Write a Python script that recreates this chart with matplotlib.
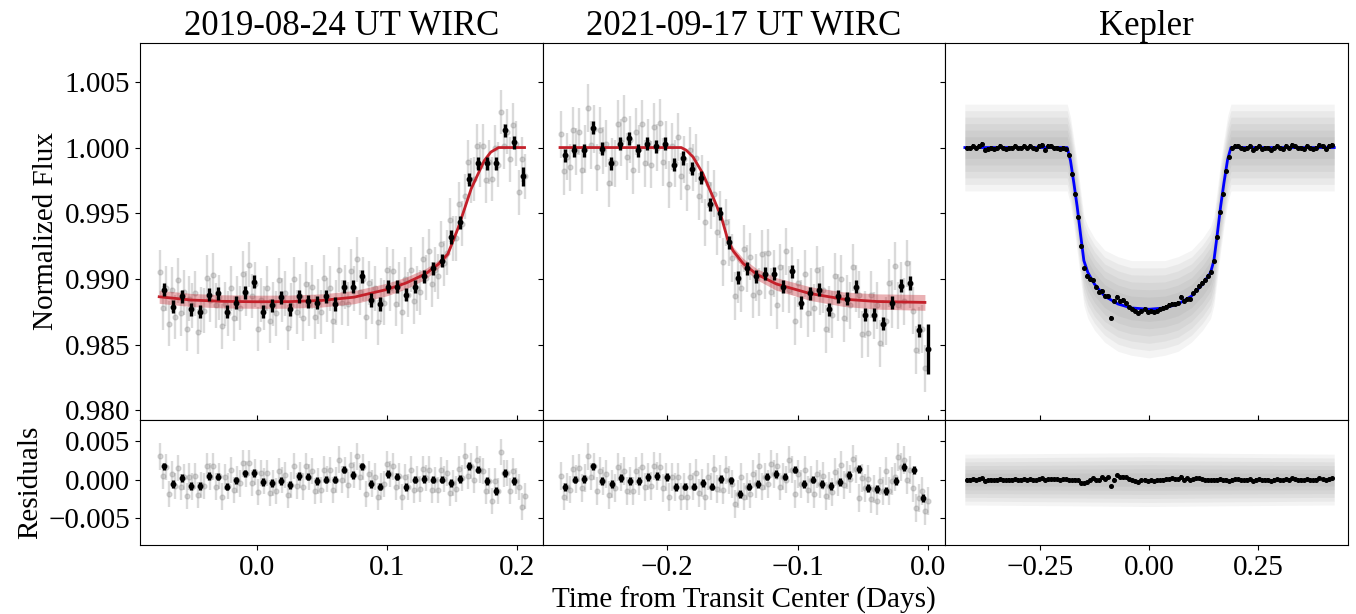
import numpy as np
import matplotlib
matplotlib.use("Agg")
import matplotlib.pyplot as plt

plt.rcParams['font.family'] = ['Liberation Serif', 'DejaVu Serif']
plt.rcParams['font.size'] = 21

titles = ["2019-08-24 UT WIRC", "2021-09-17 UT WIRC", "Kepler"]
xlabel = "Time from Transit Center (Days)"

# ---------------- 2019-08-24 WIRC ----------------
# binned points
t_bin1 = [-0.0711, -0.0642, -0.0573, -0.0504, -0.0435, -0.0366, -0.0297, -0.0228, -0.0159, -0.0090,
          -0.0021, 0.0048, 0.0117, 0.0186, 0.0255, 0.0324, 0.0393, 0.0462, 0.0531, 0.0600,
          0.0669, 0.0738, 0.0807, 0.0876, 0.0945, 0.1014, 0.1083, 0.1152, 0.1221, 0.1290,
          0.1359, 0.1428, 0.1497, 0.1566, 0.1635, 0.1704, 0.1773, 0.1842, 0.1911, 0.1980, 0.2049]
f_bin1 = [0.9892, 0.9879, 0.9887, 0.9877, 0.9875, 0.9888, 0.9889, 0.9875, 0.9882, 0.9890,
          0.9898, 0.9875, 0.9880, 0.9886, 0.9877, 0.9887, 0.9883, 0.9882, 0.9887, 0.9881,
          0.9894, 0.9894, 0.9902, 0.9884, 0.9881, 0.9894, 0.9894, 0.9888, 0.9894, 0.9902,
          0.9908, 0.9914, 0.9932, 0.9943, 0.9976, 0.9988, 0.9988, 0.9988, 1.0013, 1.0004, 0.9978]
e_bin1 = [0.0005, 0.0005, 0.0005, 0.0005, 0.0005, 0.0005, 0.0005, 0.0005, 0.0005, 0.0005,
          0.0005, 0.0005, 0.0005, 0.0005, 0.0005, 0.0005, 0.0005, 0.0005, 0.0005, 0.0005,
          0.0005, 0.0005, 0.0005, 0.0005, 0.0005, 0.0005, 0.0005, 0.0005, 0.0005, 0.0005,
          0.0005, 0.0005, 0.0005, 0.0005, 0.0005, 0.0005, 0.0005, 0.0005, 0.0005, 0.0005, 0.0007]
r_bin1 = [0.0017, -0.0006, 0.0002, -0.0008, -0.0008, 0.0005, 0.0004, -0.0009, -0.0001, 0.0008,
          0.0009, -0.0003, -0.0004, -0.0002, -0.0007, 0.0005, 0.0004, -0.0002, 0.0000, 0.0000,
          0.0013, 0.0006, 0.0017, -0.0006, -0.0009, 0.0007, 0.0004, -0.0010, 0.0000, 0.0001,
          0.0000, 0.0000, -0.0004, 0.0001, 0.0018, 0.0013, -0.0002, -0.0015, 0.0009, -0.0002]

# unbinned points
gray_t1 = [-0.0746, -0.0723, -0.0700, -0.0677, -0.0654, -0.0631, -0.0608, -0.0585, -0.0562, -0.0539,
           -0.0516, -0.0493, -0.0470, -0.0447, -0.0424, -0.0401, -0.0378, -0.0355, -0.0332, -0.0309,
           -0.0286, -0.0263, -0.0240, -0.0217, -0.0194, -0.0171, -0.0148, -0.0125, -0.0102, -0.0079,
           -0.0056, -0.0033, -0.0010, 0.0013, 0.0036, 0.0059, 0.0082, 0.0105, 0.0128, 0.0151,
           0.0174, 0.0197, 0.0220, 0.0243, 0.0266, 0.0289, 0.0312, 0.0335, 0.0358, 0.0381,
           0.0404, 0.0427, 0.0450, 0.0473, 0.0496, 0.0519, 0.0542, 0.0565, 0.0588, 0.0611,
           0.0634, 0.0657, 0.0680, 0.0703, 0.0726, 0.0749, 0.0772, 0.0795, 0.0818, 0.0841,
           0.0864, 0.0887, 0.0910, 0.0933, 0.0956, 0.0979, 0.1002, 0.1025, 0.1048, 0.1071,
           0.1094, 0.1117, 0.1140, 0.1163, 0.1186, 0.1209, 0.1232, 0.1255, 0.1278, 0.1301,
           0.1324, 0.1347, 0.1370, 0.1393, 0.1416, 0.1439, 0.1462, 0.1485, 0.1508, 0.1531,
           0.1554, 0.1577, 0.1600, 0.1623, 0.1646, 0.1669, 0.1692, 0.1715, 0.1738, 0.1761,
           0.1784, 0.1807, 0.1830, 0.1853, 0.1876, 0.1899, 0.1922, 0.1945, 0.1968, 0.1991,
           0.2014, 0.2037, 0.2060]
gray_f1 = [0.9905, 0.9878, 0.9893, 0.9866, 0.9892, 0.9871, 0.9899, 0.9874, 0.9890, 0.9862, 0.9885, 0.9880, 0.9889, 0.9860, 0.9877,
           0.9876, 0.9901, 0.9884, 0.9903, 0.9880, 0.9886, 0.9864, 0.9881, 0.9874, 0.9893, 0.9870, 0.9885, 0.9878, 0.9904, 0.9889,
           0.9911, 0.9887, 0.9896, 0.9862, 0.9884, 0.9878, 0.9893, 0.9868, 0.9881, 0.9874, 0.9899, 0.9884, 0.9889, 0.9863, 0.9880,
           0.9900, 0.9875, 0.9887, 0.9870, 0.9896, 0.9881, 0.9894, 0.9871, 0.9883, 0.9875, 0.9901, 0.9884, 0.9893, 0.9868, 0.9882,
           0.9907, 0.9882, 0.9894, 0.9881, 0.9906, 0.9893, 0.9915, 0.9890, 0.9900, 0.9871, 0.9897, 0.9883, 0.9893, 0.9867, 0.9884,
           0.9882, 0.9907, 0.9893, 0.9906, 0.9881, 0.9896, 0.9875, 0.9900, 0.9888, 0.9907, 0.9883, 0.9893, 0.9890, 0.9915, 0.9901,
           0.9921, 0.9896, 0.9907, 0.9902, 0.9927, 0.9912, 0.9920, 0.9945, 0.9931, 0.9931, 0.9957, 0.9942, 0.9963, 0.9989, 0.9975,
           0.9976, 1.0001, 0.9987, 1.0001, 0.9975, 0.9989, 0.9976, 1.0000, 0.9987, 1.0027, 1.0001, 1.0012, 0.9991, 1.0017, 1.0003,
           0.9966, 0.9991, 0.9978]
gray_r1 = [0.0030, 0.0005, 0.0016, -0.0019, 0.0007, -0.0008, 0.0015, -0.0010, 0.0003, -0.0021, 0.0004, -0.0009, 0.0005, -0.0020, -0.0007,
           -0.0008, 0.0018, 0.0004, 0.0017, -0.0009, 0.0005, -0.0022, 0.0003, -0.0008, 0.0012, -0.0014, 0.0000, -0.0005, 0.0021, 0.0007,
           0.0022, -0.0004, 0.0010, -0.0016, 0.0009, -0.0002, 0.0009, -0.0017, -0.0004, -0.0015, 0.0011, -0.0001, 0.0006, -0.0020, -0.0007,
           0.0018, -0.0008, 0.0006, -0.0009, 0.0017, 0.0003, 0.0011, -0.0015, -0.0002, -0.0013, 0.0013, 0.0001, 0.0012, -0.0013, -0.0001,
           0.0026, 0.0000, 0.0012, -0.0007, 0.0019, 0.0006, 0.0030, 0.0004, 0.0016, -0.0019, 0.0007, -0.0005, 0.0004, -0.0022, -0.0009,
           -0.0006, 0.0020, 0.0007, 0.0017, -0.0009, 0.0005, -0.0023, 0.0003, -0.0010, 0.0013, -0.0013, 0.0001, -0.0012, 0.0014, 0.0002,
           0.0013, -0.0013, -0.0001, -0.0013, 0.0012, 0.0001, 0.0009, -0.0017, -0.0004, -0.0012, 0.0014, 0.0002, 0.0031, 0.0005, 0.0018,
           0.0000, 0.0026, 0.0013, 0.0011, -0.0015, -0.0002, -0.0028, -0.0002, -0.0015, 0.0036, 0.0008, 0.0009, -0.0015, 0.0011, -0.0002,
           -0.0010, -0.0035, -0.0021]
gray_err1 = 0.0017

# transit model + 1 sigma band
model_t1 = [-0.0749, -0.0500, -0.0250, 0.0000, 0.0250, 0.0500, 0.0750, 0.1000, 0.1150, 0.1300,
            0.1400, 0.1470, 0.1550, 0.1650, 0.1750, 0.1800, 0.1860, 0.2060]
model_f1 = [0.98865, 0.98840, 0.98830, 0.98827, 0.98828, 0.98837, 0.98862, 0.98920, 0.98970, 0.99040,
            0.99115, 0.99190, 0.99390, 0.99687, 0.99900, 0.99965, 1.00000, 1.00000]
model_s1 = [0.0005, 0.0005, 0.0005, 0.0005, 0.0005, 0.0005, 0.0005, 0.00048, 0.00045, 0.0004,
            0.0003, 0.0002, 0.0001, 0.0, 0.0, 0.0, 0.0, 0.0]

# ---------------- 2021-09-17 WIRC ----------------
t_bin2 = [-0.2776, -0.2707, -0.2637, -0.2568, -0.2498, -0.2429, -0.2360, -0.2290, -0.2221, -0.2151,
          -0.2082, -0.2013, -0.1943, -0.1874, -0.1804, -0.1735, -0.1666, -0.1596, -0.1527, -0.1457,
          -0.1388, -0.1319, -0.1249, -0.1180, -0.1110, -0.1041, -0.0972, -0.0902, -0.0833, -0.0763,
          -0.0694, -0.0625, -0.0555, -0.0486, -0.0416, -0.0347, -0.0278, -0.0208, -0.0139, -0.0069, 0.0000]
f_bin2 = [0.9994, 0.9998, 0.9998, 1.0015, 0.9999, 0.9988, 1.0003, 1.0007, 0.9998, 1.0003,
          1.0001, 1.0003, 0.9987, 0.9992, 0.9984, 0.9977, 0.9957, 0.9950, 0.9928, 0.9901,
          0.9908, 0.9902, 0.9904, 0.9904, 0.9894, 0.9906, 0.9882, 0.9889, 0.9892, 0.9877,
          0.9887, 0.9885, 0.9894, 0.9873, 0.9873, 0.9866, 0.9882, 0.9895, 0.9897, 0.9861, 0.9847]
e_bin2 = [0.0005, 0.0005, 0.0005, 0.0005, 0.0005, 0.0005, 0.0005, 0.0005, 0.0005, 0.0005,
          0.0005, 0.0005, 0.0005, 0.0005, 0.0005, 0.0005, 0.0005, 0.0005, 0.0005, 0.0005,
          0.0005, 0.0005, 0.0005, 0.0005, 0.0005, 0.0005, 0.0005, 0.0005, 0.0005, 0.0005,
          0.0005, 0.0005, 0.0005, 0.0005, 0.0005, 0.0005, 0.0005, 0.0005, 0.0005, 0.0005, 0.0019]
rt_bin2 = [-0.2776, -0.2705, -0.2636, -0.2567, -0.2493, -0.2421, -0.2352, -0.2283, -0.2214, -0.2145,
           -0.2074, -0.2002, -0.1933, -0.1862, -0.1793, -0.1724, -0.1655, -0.1583, -0.1512, -0.1443,
           -0.1371, -0.1303, -0.1234, -0.1165, -0.1093, -0.1022, -0.0950, -0.0881, -0.0812, -0.0743,
           -0.0674, -0.0603, -0.0531, -0.0460, -0.0391, -0.0322, -0.0248, -0.0184, -0.0110, -0.0038]
r_bin2 = [-0.0010, 0.0000, 0.0001, 0.0017, -0.0002, -0.0006, 0.0002, -0.0002, -0.0002, 0.0003,
          0.0005, 0.0003, -0.0010, -0.0009, -0.0009, -0.0004, -0.0009, 0.0001, -0.0001, -0.0019,
          -0.0009, -0.0006, 0.0004, 0.0007, 0.0004, 0.0013, -0.0006, 0.0000, -0.0006, -0.0008,
          -0.0003, 0.0006, 0.0014, -0.0011, -0.0012, -0.0015, -0.0002, 0.0016, 0.0012, -0.0024]

gray_t2 = [-0.2810, -0.2787, -0.2764, -0.2741, -0.2718, -0.2695, -0.2672, -0.2649, -0.2626, -0.2603,
           -0.2580, -0.2557, -0.2534, -0.2511, -0.2488, -0.2465, -0.2442, -0.2419, -0.2396, -0.2373,
           -0.2350, -0.2327, -0.2304, -0.2281, -0.2258, -0.2235, -0.2212, -0.2189, -0.2166, -0.2143,
           -0.2120, -0.2097, -0.2074, -0.2051, -0.2028, -0.2005, -0.1982, -0.1959, -0.1936, -0.1913,
           -0.1890, -0.1867, -0.1844, -0.1821, -0.1798, -0.1775, -0.1752, -0.1729, -0.1706, -0.1683,
           -0.1660, -0.1637, -0.1614, -0.1591, -0.1568, -0.1545, -0.1522, -0.1499, -0.1476, -0.1453,
           -0.1430, -0.1407, -0.1384, -0.1361, -0.1338, -0.1315, -0.1292, -0.1269, -0.1246, -0.1223,
           -0.1200, -0.1177, -0.1154, -0.1131, -0.1108, -0.1085, -0.1062, -0.1039, -0.1016, -0.0993,
           -0.0970, -0.0947, -0.0924, -0.0901, -0.0878, -0.0855, -0.0832, -0.0809, -0.0786, -0.0763,
           -0.0740, -0.0717, -0.0694, -0.0671, -0.0648, -0.0625, -0.0602, -0.0579, -0.0556, -0.0533,
           -0.0510, -0.0487, -0.0464, -0.0441, -0.0418, -0.0395, -0.0372, -0.0349, -0.0326, -0.0303,
           -0.0280, -0.0257, -0.0234, -0.0211, -0.0188, -0.0165, -0.0142, -0.0119, -0.0096, -0.0073,
           -0.0050, -0.0027, -0.0004]
gray_f2 = [1.0010, 0.9982, 0.9993, 0.9985, 1.0013, 0.9997, 1.0012, 0.9983, 0.9999, 1.0030, 1.0002, 1.0014, 0.9985, 1.0013, 0.9998,
           1.0003, 0.9973, 0.9989, 0.9988, 1.0018, 1.0004, 1.0022, 0.9993, 1.0006, 0.9983, 1.0012, 0.9999, 1.0018, 0.9988, 1.0004,
           0.9987, 1.0016, 1.0000, 1.0019, 0.9989, 1.0002, 0.9972, 1.0001, 0.9988, 1.0008, 0.9978, 0.9991, 0.9970, 0.9998, 0.9985,
           0.9992, 0.9963, 0.9976, 0.9943, 0.9972, 0.9956, 0.9965, 0.9936, 0.9949, 0.9913, 0.9943, 0.9928, 0.9916, 0.9887, 0.9900,
           0.9893, 0.9923, 0.9908, 0.9917, 0.9888, 0.9901, 0.9890, 0.9919, 0.9903, 0.9920, 0.9890, 0.9904, 0.9880, 0.9909, 0.9893,
           0.9921, 0.9892, 0.9906, 0.9868, 0.9897, 0.9881, 0.9904, 0.9874, 0.9890, 0.9878, 0.9907, 0.9891, 0.9892, 0.9862, 0.9877,
           0.9873, 0.9902, 0.9886, 0.9900, 0.9870, 0.9885, 0.9880, 0.9909, 0.9893, 0.9888, 0.9858, 0.9873, 0.9859, 0.9888, 0.9872,
           0.9880, 0.9851, 0.9866, 0.9868, 0.9897, 0.9881, 0.9910, 0.9880, 0.9895, 0.9883, 0.9912, 0.9896, 0.9876, 0.9846, 0.9861,
           0.9862, 0.9832, 0.9847]
gray_r2 = [0.0005, -0.0022, -0.0010, -0.0013, 0.0014, 0.0001, 0.0015, -0.0011, 0.0002, 0.0030, 0.0004, 0.0017, -0.0015, 0.0011, -0.0002,
           0.0007, -0.0020, -0.0006, -0.0011, 0.0016, 0.0003, 0.0011, -0.0015, -0.0002, -0.0015, 0.0011, -0.0002, 0.0016, -0.0010, 0.0004,
           -0.0008, 0.0018, 0.0005, 0.0016, -0.0011, 0.0003, -0.0023, 0.0003, -0.0010, 0.0004, -0.0022, -0.0009, -0.0022, 0.0004, -0.0009,
           0.0009, -0.0017, -0.0004, -0.0022, 0.0004, -0.0009, 0.0014, -0.0012, 0.0001, -0.0014, 0.0012, -0.0001, -0.0006, -0.0032, -0.0019,
           0.0004, -0.0022, -0.0009, -0.0019, 0.0007, -0.0006, 0.0017, -0.0009, 0.0004, -0.0006, 0.0020, 0.0007, 0.0017, -0.0009, 0.0004,
           0.0000, 0.0026, 0.0013, -0.0019, 0.0007, -0.0006, 0.0013, -0.0013, 0.0000, -0.0019, 0.0007, -0.0006, 0.0005, -0.0021, -0.0008,
           -0.0016, 0.0010, -0.0003, 0.0019, -0.0007, 0.0006, 0.0001, 0.0027, 0.0014, -0.0024, 0.0002, -0.0011, 0.0001, -0.0025, -0.0012,
           -0.0028, -0.0002, -0.0015, 0.0011, -0.0015, -0.0002, 0.0003, 0.0029, 0.0016, 0.0025, -0.0001, 0.0012, -0.0011, -0.0037, -0.0024,
           -0.0015, -0.0041, -0.0028]
gray_err2 = 0.0018

model_t2 = [-0.2817, -0.1890, -0.1852, -0.1800, -0.1724, -0.1647, -0.1583, -0.1532, -0.1494, -0.1417,
            -0.1315, -0.1162, -0.0907, -0.0651, -0.0396, -0.0026]
model_f2 = [1.0, 1.0, 0.9998, 0.99929, 0.99801, 0.99623, 0.99471, 0.99292, 0.99216, 0.99119,
            0.99038, 0.98962, 0.98890, 0.98847, 0.98829, 0.98822]
model_s2 = [0.0, 0.0, 0.0, 0.0, 0.0, 0.0, 0.0001, 0.0002, 0.0003, 0.00038,
            0.00042, 0.00048, 0.00052, 0.00055, 0.00058, 0.0006]

# ---------------- Kepler ----------------
kep_t = [-0.4175, -0.4106, -0.4037, -0.3968, -0.3899, -0.3830, -0.3761, -0.3692, -0.3623, -0.3554,
         -0.3485, -0.3416, -0.3347, -0.3278, -0.3209, -0.3140, -0.3071, -0.3002, -0.2933, -0.2864,
         -0.2795, -0.2726, -0.2657, -0.2588, -0.2519, -0.2450, -0.2381, -0.2312, -0.2243, -0.2174,
         -0.2105, -0.2036, -0.1967, -0.1898, -0.1829, -0.1760, -0.1691, -0.1622, -0.1553, -0.1484,
         -0.1415, -0.1346, -0.1277, -0.1208, -0.1139, -0.1070, -0.1001, -0.0932, -0.0863, -0.0794,
         -0.0725, -0.0656, -0.0587, -0.0518, -0.0449, -0.0380, -0.0311, -0.0242, -0.0173, -0.0104,
         -0.0035, 0.0034, 0.0103, 0.0172, 0.0241, 0.0310, 0.0379, 0.0448, 0.0517, 0.0586,
         0.0655, 0.0724, 0.0793, 0.0862, 0.0931, 0.1000, 0.1069, 0.1138, 0.1207, 0.1276,
         0.1345, 0.1414, 0.1483, 0.1552, 0.1621, 0.1690, 0.1759, 0.1828, 0.1897, 0.1966,
         0.2035, 0.2104, 0.2173, 0.2242, 0.2311, 0.2380, 0.2449, 0.2518, 0.2587, 0.2656,
         0.2725, 0.2794, 0.2863, 0.2932, 0.3001, 0.3070, 0.3139, 0.3208, 0.3277, 0.3346,
         0.3415, 0.3484, 0.3553, 0.3622, 0.3691, 0.3760, 0.3829, 0.3898, 0.3967, 0.4036,
         0.4105, 0.4174]
kep_f = [1.0000, 1.0000, 1.0001, 1.0000, 1.0001, 1.0003, 0.9998, 0.9999, 1.0000, 0.9999,
         1.0000, 1.0001, 1.0000, 0.9999, 1.0000, 1.0000, 1.0001, 1.0000, 1.0000, 1.0001,
         1.0000, 1.0001, 1.0000, 0.9999, 1.0001, 1.0002, 0.9998, 1.0001, 1.0001, 1.0000,
         1.0000, 0.9999, 1.0000, 0.9999, 0.9994, 0.9980, 0.9965, 0.9947, 0.9925, 0.9908,
         0.9902, 0.9900, 0.9899, 0.9894, 0.9890, 0.9891, 0.9887, 0.9887, 0.9870, 0.9883,
         0.9886, 0.9883, 0.9884, 0.9882, 0.9879, 0.9877, 0.9876, 0.9874, 0.9876, 0.9877,
         0.9875, 0.9876, 0.9875, 0.9876, 0.9877, 0.9878, 0.9879, 0.9880, 0.9881, 0.9881,
         0.9882, 0.9886, 0.9883, 0.9885, 0.9885, 0.9889, 0.9892, 0.9895, 0.9897, 0.9899,
         0.9902, 0.9905, 0.9914, 0.9932, 0.9951, 0.9965, 0.9982, 0.9993, 1.0000, 1.0001,
         1.0001, 1.0000, 0.9999, 1.0000, 1.0001, 0.9998, 1.0000, 1.0001, 0.9999, 1.0000,
         1.0000, 0.9998, 1.0000, 1.0001, 1.0000, 0.9999, 1.0001, 1.0000, 1.0002, 1.0001,
         1.0000, 1.0000, 0.9999, 1.0001, 1.0000, 0.9999, 1.0000, 1.0002, 1.0001, 0.9999,
         1.0001, 1.0002]
kep_r = [0.0000, 0.0000, 0.0001, 0.0000, 0.0001, 0.0002, -0.0002, -0.0001, 0.0000, -0.0001,
         0.0000, 0.0001, 0.0000, -0.0001, 0.0000, 0.0000, 0.0001, 0.0000, 0.0000, 0.0001,
         0.0000, 0.0001, 0.0000, -0.0001, 0.0001, 0.0002, 0.0000, 0.0001, 0.0001, 0.0001,
         0.0001, 0.0000, 0.0001, 0.0001, 0.0000, -0.0001, 0.0000, -0.0001, -0.0005, -0.0004,
         -0.0003, -0.0001, 0.0002, 0.0000, -0.0001, 0.0003, 0.0001, 0.0003, -0.0008, 0.0000,
         0.0006, 0.0003, 0.0004, 0.0003, 0.0001, -0.0001, -0.0002, -0.0003, -0.0001, 0.0000,
         -0.0002, -0.0001, -0.0002, -0.0001, -0.0001, 0.0000, 0.0001, 0.0001, 0.0002, 0.0001,
         0.0001, 0.0004, 0.0000, 0.0002, -0.0001, 0.0001, 0.0002, 0.0002, 0.0001, 0.0000,
         0.0000, -0.0001, 0.0000, 0.0000, 0.0001, -0.0001, 0.0000, -0.0002, 0.0000, 0.0001,
         0.0001, 0.0000, -0.0001, 0.0000, 0.0001, -0.0002, 0.0000, 0.0001, -0.0001, 0.0000,
         0.0000, -0.0002, 0.0000, 0.0001, 0.0000, -0.0001, 0.0001, 0.0000, 0.0002, 0.0001,
         0.0000, 0.0000, -0.0001, 0.0001, 0.0000, -0.0001, 0.0000, 0.0002, 0.0001, -0.0001,
         0.0001, 0.0002]
kep_err = 0.00015

kep_model_t = [-0.4213, -0.1873, -0.1797, -0.1720, -0.1644, -0.1567, -0.1491, -0.1400, -0.1246, -0.1017,
               -0.0711, -0.0405, 0.0000, 0.0359, 0.0665, 0.0971, 0.1223, 0.1407, 0.1483, 0.1560,
               0.1636, 0.1712, 0.1797, 0.1873, 0.4235]
kep_model_f = [1.0, 1.0, 0.9990, 0.9973, 0.9955, 0.9934, 0.9914, 0.9905, 0.9896, 0.9887,
               0.9881, 0.9878, 0.9877, 0.9878, 0.9881, 0.9887, 0.9896, 0.9905, 0.9914, 0.9934,
               0.9955, 0.9973, 0.9991, 1.0, 1.0]
# full spread of the unbinned Kepler points around the model
kep_cloud = [0.0033, 0.0033, 0.0033, 0.0033, 0.0034, 0.0034, 0.0034, 0.0035, 0.0035, 0.0035,
             0.0036, 0.0036, 0.0037, 0.0036, 0.0036, 0.0035, 0.0035, 0.0035, 0.0034, 0.0034,
             0.0034, 0.0033, 0.0033, 0.0033, 0.0033]
kep_rcloud_t = [-0.4213, -0.1900, 0.0000, 0.1900, 0.4235]
kep_rcloud = [0.0033, 0.0034, 0.0035, 0.0034, 0.0033]


red = '#c4202a'
cloud_levels = [1.0, 0.85, 0.7, 0.55, 0.4, 0.25]   # soft falloff of the dense point cloud

fig, axes = plt.subplots(2, 3, figsize=(13.56, 6.14), dpi=100, sharex='col', sharey='row',
                         gridspec_kw=dict(height_ratios=[3, 1]))
plt.subplots_adjust(left=0.1032, right=0.9941, top=0.9295, bottom=0.1124, wspace=0, hspace=0)

def draw_wirc(ax, axr, gt, gf, gr, gerr, tb, fb, eb, rtb, rb, mt, mf, ms):
    ax.errorbar(gt, gf, yerr=gerr, fmt='o', color='0.55', ms=3.5, elinewidth=1.7, alpha=0.32, zorder=1)
    mf = np.array(mf)
    ms = np.array(ms)
    ax.fill_between(mt, mf - ms, mf + ms, color=red, alpha=0.35, lw=0, zorder=2)
    ax.plot(mt, mf, color=red, lw=2, zorder=3)
    ax.errorbar(tb, fb, yerr=eb, fmt='o', color='k', ms=3.2, elinewidth=2.4, capsize=0, zorder=4)
    axr.errorbar(gt, gr, yerr=gerr, fmt='o', color='0.55', ms=3.5, elinewidth=1.7, alpha=0.32, zorder=1)
    axr.errorbar(rtb, rb, yerr=eb[:len(rb)], fmt='o', color='k', ms=3.2, elinewidth=2.4, capsize=0, zorder=4)

draw_wirc(axes[0, 0], axes[1, 0], gray_t1, gray_f1, gray_r1, gray_err1,
          t_bin1, f_bin1, e_bin1, t_bin1[:len(r_bin1)], r_bin1, model_t1, model_f1, model_s1)
draw_wirc(axes[0, 1], axes[1, 1], gray_t2, gray_f2, gray_r2, gray_err2,
          t_bin2, f_bin2, e_bin2, rt_bin2, r_bin2, model_t2, model_f2, model_s2)

# Kepler
ax = axes[0, 2]
kmf = np.array(kep_model_f)
kw = np.array(kep_cloud)
for lev in cloud_levels:
    ax.fill_between(kep_model_t, kmf - lev * kw, kmf + lev * kw, color='#666666', alpha=0.07, lw=0, zorder=1)
ax.plot(kep_model_t, kep_model_f, color='blue', lw=2, zorder=3)
ax.errorbar(kep_t, kep_f, yerr=kep_err, fmt='o', color='k', ms=2.6, elinewidth=1.4, capsize=0, zorder=4)

axr = axes[1, 2]
krw = np.array(kep_rcloud)
for lev in cloud_levels:
    axr.fill_between(kep_rcloud_t, -lev * krw, lev * krw, color='#666666', alpha=0.07, lw=0, zorder=1)
axr.errorbar(kep_t, kep_r, yerr=kep_err, fmt='o', color='k', ms=2.6, elinewidth=1.4, capsize=0, zorder=4)

# axes cosmetics
xlims = [(-0.0897, 0.2199), (-0.295, 0.013), (-0.466, 0.455)]
xticks = [[0.0, 0.1, 0.2], [-0.2, -0.1, 0.0], [-0.25, 0.0, 0.25]]
xticklabels = [["0.0", "0.1", "0.2"], ["\u22120.2", "\u22120.1", "0.0"], ["\u22120.25", "0.00", "0.25"]]
for i in range(3):
    axes[0, i].set_title(titles[i], fontsize=25, pad=5)
    axes[1, i].set_xlim(*xlims[i])
    axes[1, i].set_xticks(xticks[i])
    axes[1, i].set_xticklabels(xticklabels[i])
    axes[0, i].tick_params(axis='x', direction='in')

axes[0, 0].set_ylim(0.97931, 1.00793)
axes[0, 0].set_yticks([0.980, 0.985, 0.990, 0.995, 1.000, 1.005])
axes[0, 0].set_yticklabels(["0.980", "0.985", "0.990", "0.995", "1.000", "1.005"])
axes[1, 0].set_ylim(-0.0085, 0.0078)
axes[1, 0].set_yticks([-0.005, 0.0, 0.005])
axes[1, 0].set_yticklabels(["\u22120.005", "0.000", "0.005"])

axes[0, 0].set_ylabel("Normalized Flux")
axes[1, 0].set_ylabel("Residuals")
axes[1, 1].set_xlabel(xlabel)

plt.savefig("out.png", dpi=100)
